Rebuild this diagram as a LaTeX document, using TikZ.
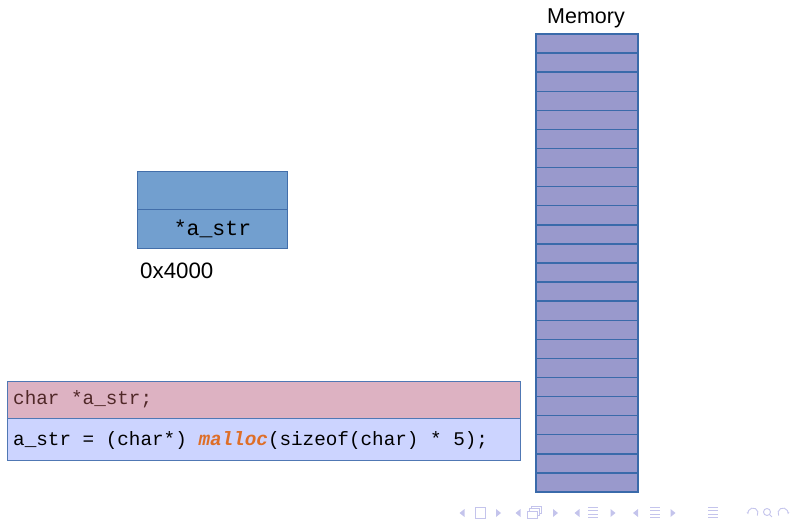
\documentclass[tikz,border=0pt]{standalone}
\usepackage{fontspec}
\setmainfont{Liberation Sans}
\newfontfamily\codefont{Liberation Mono}
\usetikzlibrary{arrows.meta}
\definecolor{memfill}{RGB}{153,153,204}
\definecolor{memline}{RGB}{58,106,170}
\definecolor{ptrfill}{RGB}{114,159,207}
\definecolor{ptrline}{RGB}{66,110,170}
\definecolor{codepink}{RGB}{221,178,194}
\definecolor{codeblue}{RGB}{204,212,255}
\definecolor{codeline}{RGB}{80,120,180}
\definecolor{codebrown}{RGB}{80,40,40}
\definecolor{mallocorange}{RGB}{222,110,40}
\definecolor{navcol}{RGB}{196,196,236}
\tikzset{
  memcell/.style={draw=memline, line width=1.4pt, fill=memfill, minimum width=102pt, minimum height=19.08pt, inner sep=0pt, outer sep=0pt},
  ptrcell/.style={draw=ptrline, line width=0.9pt, fill=ptrfill, minimum width=150.5pt, minimum height=38.5pt, inner sep=0pt, outer sep=0pt},
  codecell/.style={draw=codeline, line width=0.9pt, minimum width=513pt, inner sep=0pt, outer sep=0pt},
  label/.style={font=\fontsize{21.5}{24}\selectfont, inner sep=0pt},
  codetext/.style={font=\codefont\fontsize{19.3}{22}\selectfont, inner sep=0pt, anchor=west},
  navtri/.style={fill=navcol, draw=none},
  navline/.style={draw=navcol, line width=0.9pt}
}
\begin{document}
\begin{tikzpicture}[x=1pt,y=-1pt]
\useasboundingbox (0,0) rectangle (793,524);
% Memory column
\node[label] (memlabel) at (586,18) {Memory};
\foreach \i in {1,...,24} {
  \node[memcell] (m\i) at (587, {34 + (\i-0.5)*19.083}) {};
}
% pointer variable
\node[ptrcell] (ptop) at (212.5,190.25) {};
\node[ptrcell, minimum height=39pt] (pbot) at (212.5,228.75) {\codefont\fontsize{21.5}{24}\selectfont *a\_str};
\node[label, anchor=west, font=\fontsize{22.3}{24}\selectfont] (addr) at (140,271) {0x4000};
% code box
\node[codecell, fill=codepink, minimum height=37pt] (c1) at (263.5,399.5) {};
\node[codecell, fill=codeblue, minimum height=42pt] (c2) at (263.5,439) {};
\node[codetext, text=codebrown] (t1) at (13,399.5) {char *a\_str;};
\node[codetext, text=black] (t2) at (13,441) {a\_str = (char*) \textcolor{mallocorange}{\textbf{\textit{malloc}}}(sizeof(char) * 5);};
% navigation symbols
\begin{scope}
  % slide
  \fill[navtri] (464.5,509) -- (464.5,517) -- (459.5,513) -- cycle;
  \draw[navline, line width=0.8pt] (475,507) rectangle (485,518);
  \fill[navtri] (496,509) -- (496,517) -- (501,513) -- cycle;
  % frame
  \fill[navtri] (520.5,509) -- (520.5,517) -- (515.5,513) -- cycle;
  \draw[navline, line width=0.8pt] (531,506) rectangle (541,513);
  \draw[navline, line width=0.8pt, fill=white] (529,508.5) rectangle (539,515.5);
  \draw[navline, line width=0.8pt, fill=white] (527,511) rectangle (537,518);
  \fill[navtri] (553,509) -- (553,517) -- (558,513) -- cycle;
  % subsection
  \fill[navtri] (579.5,509) -- (579.5,517) -- (574.5,513) -- cycle;
  \foreach \yy in {507,510.5,514,517.5} \draw[navline] (588,\yy) -- (598,\yy);
  \fill[navtri] (610.5,509) -- (610.5,517) -- (615.5,513) -- cycle;
  % section
  \fill[navtri] (638,509) -- (638,517) -- (633,513) -- cycle;
  \foreach \yy in {507,510.5,514,517.5} \draw[navline] (650,\yy) -- (660,\yy);
  \fill[navtri] (670.5,509) -- (670.5,517) -- (675.5,513) -- cycle;
  % document
  \foreach \yy in {507,510.5,514,517.5} \draw[navline] (708,\yy) -- (718,\yy);
  % undo / search / redo
  \coordinate (undoC) at (753,513);
  \coordinate (redoC) at (783,513);
  \coordinate (srchC) at (767,512);
  \draw[navline, -{Stealth[length=2.5pt]}] (undoC) ++(-30:5pt) arc[start angle=-30, end angle=195, radius=5pt];
  \draw[navline] (srchC) circle[radius=3.5pt];
  \draw[navline] (srchC) ++(-45:3.5pt) -- ++(-45:3.5pt);
  \draw[navline, -{Stealth[length=2.5pt]}] (redoC) ++(210:5pt) arc[start angle=210, end angle=-15, radius=5pt];
\end{scope}
\end{tikzpicture}
\end{document}
